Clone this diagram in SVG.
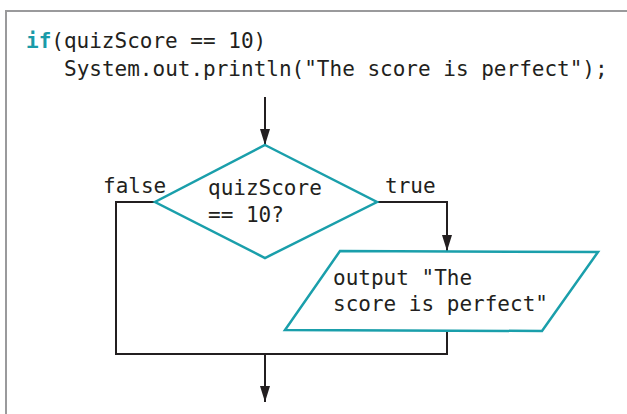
<svg xmlns="http://www.w3.org/2000/svg" width="627" height="414" viewBox="0 0 627 414">
<style>
text{font-family:"DejaVu Sans Mono","Liberation Mono",monospace;font-size:21px;fill:#231f20}
.kw{fill:#1a9ba8;font-weight:bold}
.shape{fill:#fff;stroke:#1a9fab;stroke-width:2.5;stroke-linejoin:miter}
.conn{fill:none;stroke:#231f20;stroke-width:2}
</style>
<defs>
<marker id="ah" viewBox="0 0 16 10" refX="16" refY="5" markerWidth="16" markerHeight="10" markerUnits="userSpaceOnUse" orient="auto">
<path d="M0,0 L16,5 L0,10 Z" fill="#231f20"/>
</marker>
</defs>
<rect x="0" y="0" width="627" height="414" fill="#fff"/>
<path d="M6,420 V11 H630" fill="none" stroke="#9a9a9c" stroke-width="2"/>
<g id="code">
<text x="26" y="48"><tspan class="kw">if</tspan>(quizScore == 10)</text>
<text x="64" y="76">System.out.println("The score is perfect");</text>
</g>
<g id="connectors">
<path class="conn" d="M265,97 V145" marker-end="url(#ah)"/>
<path class="conn" d="M377,202 H447 V251" marker-end="url(#ah)"/>
<path class="conn" d="M155,202 H116 V354 H447 V331"/>
<path class="conn" d="M265,354 V402" marker-end="url(#ah)"/>
<text x="103" y="193">false</text>
<text x="385" y="193">true</text>
</g>
<g id="decision">
<polygon class="shape" points="265,145 377,202 265,258 155,202"/>
<text x="208" y="195">quizScore</text>
<text x="208" y="222">== 10?</text>
</g>
<g id="output">
<polygon class="shape" points="340,251 598,252 542,331 285,330"/>
<text x="333" y="285">output "The</text>
<text x="333" y="311">score is perfect"</text>
</g>
</svg>
